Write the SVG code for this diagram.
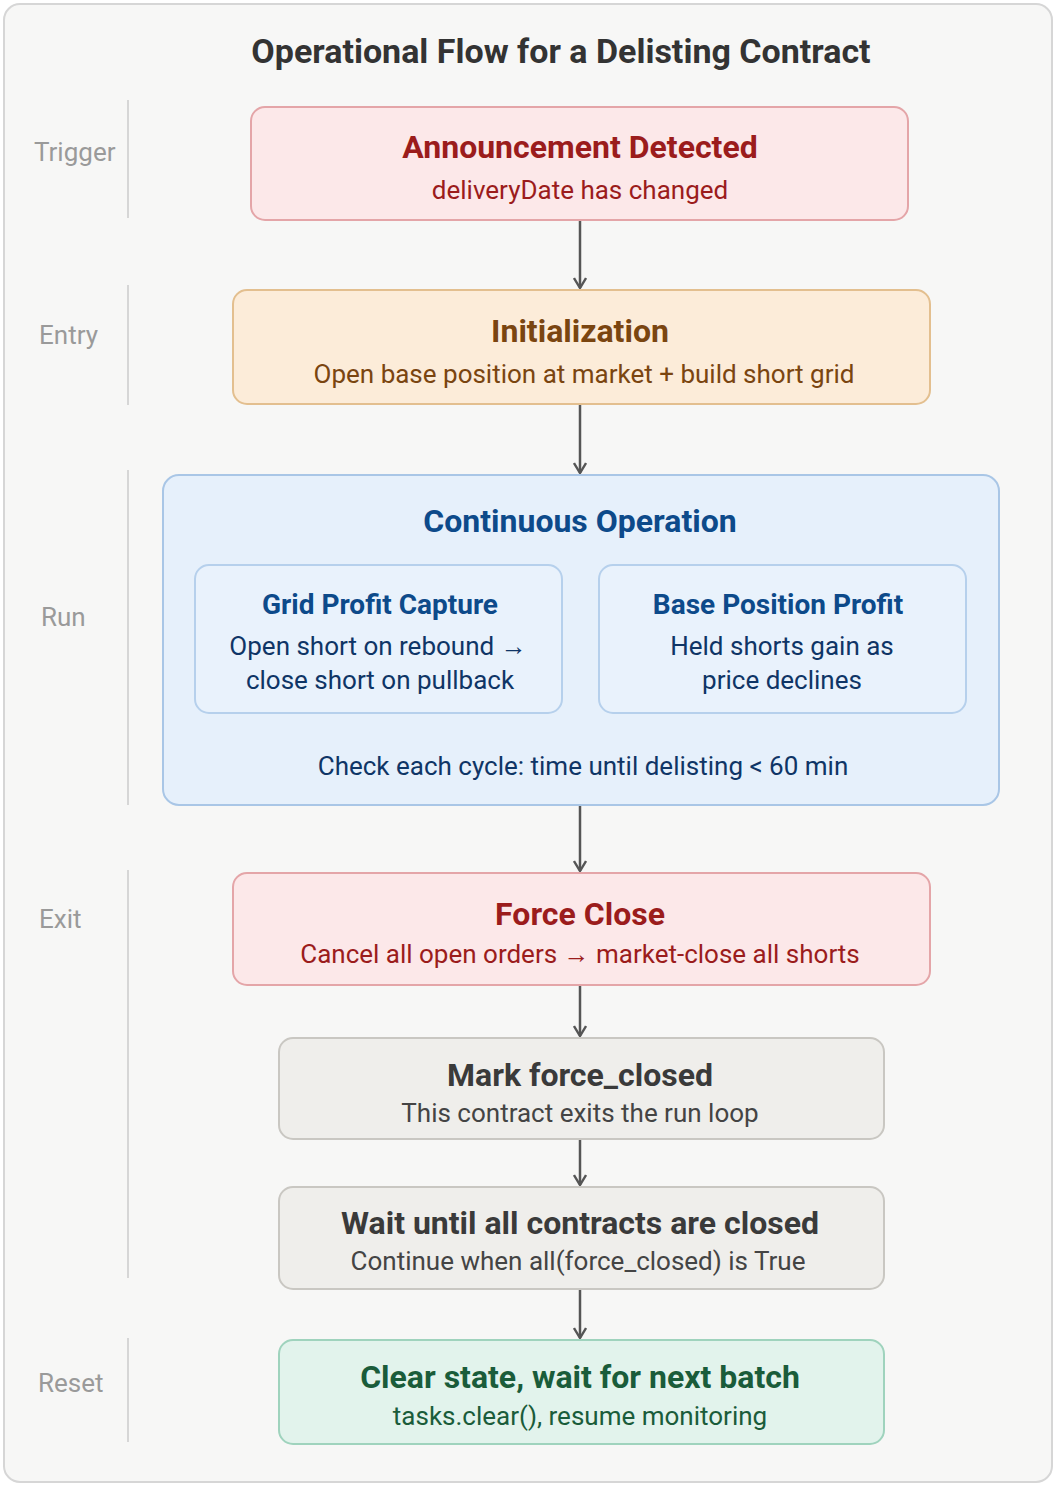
<svg xmlns="http://www.w3.org/2000/svg" width="1057" height="1488" viewBox="0 0 1057 1488">
<defs>
<marker id="ah" viewBox="0 0 14 14" refX="12" refY="7" markerWidth="14" markerHeight="14" markerUnits="userSpaceOnUse" orient="auto">
<path d="M2 1 L12 7 L2 13" fill="none" stroke="#555" stroke-width="2.4"/>
</marker>
<style>
text{font-family:Roboto,"Liberation Sans",sans-serif;text-anchor:middle}
.t{font-size:32px;font-weight:bold}
.s{font-size:26px}
.it{font-size:28px;font-weight:bold;fill:#0d4a8a}
.is{font-size:26px;fill:#0f3566}
.lane{font-size:26px;fill:#9a9a9a;text-anchor:start}
.div{stroke:#d6d6d6;stroke-width:2}
.c{stroke:#555;stroke-width:2.5;fill:none;marker-end:url(#ah)}
</style>
</defs>
<rect x="4" y="4" width="1048" height="1478" rx="16" fill="#f7f7f6" stroke="#d6d6d6" stroke-width="2"/>
<text x="561" y="63" style="font-size:34px;font-weight:bold;fill:#333">Operational Flow for a Delisting Contract</text>
<g id="lanes">
<text class="lane" x="34" y="161">Trigger</text>
<text class="lane" x="39" y="344">Entry</text>
<text class="lane" x="41" y="626">Run</text>
<text class="lane" x="39" y="928">Exit</text>
<text class="lane" x="38" y="1392">Reset</text>
<line class="div" x1="128" y1="100" x2="128" y2="218"/>
<line class="div" x1="128" y1="285" x2="128" y2="405"/>
<line class="div" x1="128" y1="470" x2="128" y2="805"/>
<line class="div" x1="128" y1="870" x2="128" y2="1278"/>
<line class="div" x1="128" y1="1338" x2="128" y2="1442"/>
</g>
<g id="connectors">
<line class="c" x1="580" y1="220" x2="580" y2="288"/>
<line class="c" x1="580" y1="404" x2="580" y2="473"/>
<line class="c" x1="580" y1="805" x2="580" y2="871"/>
<line class="c" x1="580" y1="985" x2="580" y2="1036"/>
<line class="c" x1="580" y1="1139" x2="580" y2="1185"/>
<line class="c" x1="580" y1="1289" x2="580" y2="1338"/>
</g>
<g id="n1">
<rect x="251" y="107" width="657" height="113" rx="14" fill="#fce8e9" stroke="#e4a5a8" stroke-width="2"/>
<text class="t" x="580" y="158" fill="#9b1c1c">Announcement Detected</text>
<text class="s" x="580" y="199" fill="#9b1c1c">deliveryDate has changed</text>
</g>
<g id="n2">
<rect x="233" y="290" width="697" height="114" rx="14" fill="#fcecd9" stroke="#e3bf8f" stroke-width="2"/>
<text class="t" x="580" y="342" fill="#7a4510">Initialization</text>
<text class="s" x="584" y="383" fill="#7a4510">Open base position at market + build short grid</text>
</g>
<g id="n3">
<rect x="163" y="475" width="836" height="330" rx="16" fill="#e6f0fb" stroke="#a9c6e6" stroke-width="2"/>
<text class="t" x="580" y="532" fill="#0d4a8a">Continuous Operation</text>
<g id="n3a">
<rect x="195" y="565" width="367" height="148" rx="14" fill="#e9f2fc" stroke="#b6d0ec" stroke-width="2"/>
<text class="it" x="380" y="614">Grid Profit Capture</text>
<text class="is" x="378" y="655">Open short on rebound →</text>
<text class="is" x="380" y="689">close short on pullback</text>
</g>
<g id="n3b">
<rect x="599" y="565" width="367" height="148" rx="14" fill="#e9f2fc" stroke="#b6d0ec" stroke-width="2"/>
<text class="it" x="778" y="614">Base Position Profit</text>
<text class="is" x="782" y="655">Held shorts gain as</text>
<text class="is" x="782" y="689">price declines</text>
</g>
<text class="is" x="583" y="775">Check each cycle: time until delisting &lt; 60 min</text>
</g>
<g id="n4">
<rect x="233" y="873" width="697" height="112" rx="14" fill="#fce8e9" stroke="#e4a5a8" stroke-width="2"/>
<text class="t" x="580" y="925" fill="#9b1c1c">Force Close</text>
<text class="s" x="580" y="963" fill="#9b1c1c">Cancel all open orders → market-close all shorts</text>
</g>
<g id="n5">
<rect x="279" y="1038" width="605" height="101" rx="14" fill="#efeeeb" stroke="#c9c7c2" stroke-width="2"/>
<text class="t" x="580" y="1086" fill="#3a3a3a">Mark force_closed</text>
<text class="s" x="580" y="1122" fill="#444">This contract exits the run loop</text>
</g>
<g id="n6">
<rect x="279" y="1187" width="605" height="102" rx="14" fill="#efeeeb" stroke="#c9c7c2" stroke-width="2"/>
<text class="t" x="580" y="1234" fill="#3a3a3a">Wait until all contracts are closed</text>
<text class="s" x="578" y="1270" fill="#444">Continue when all(force_closed) is True</text>
</g>
<g id="n7">
<rect x="279" y="1340" width="605" height="104" rx="14" fill="#e2f3ec" stroke="#9fd3bd" stroke-width="2"/>
<text class="t" x="580" y="1388" fill="#1a5c3a">Clear state, wait for next batch</text>
<text class="s" x="580" y="1425" fill="#1a5c3a">tasks.clear(), resume monitoring</text>
</g>
</svg>
